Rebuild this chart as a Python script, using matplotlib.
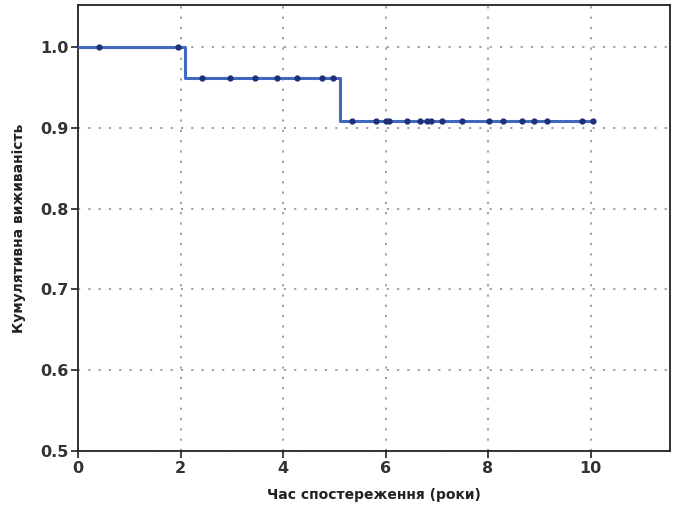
import numpy as np
import matplotlib.pyplot as plt

# step curve: times where survival changes, and the level after each change
step_times = [0.0, 2.09, 5.11]
step_levels = [1.0, 0.9615, 0.908]
end_time = 10.05

# censored observations (years)
censored = [0.41, 1.95,
            2.41, 2.96, 3.46, 3.89, 4.28, 4.76, 4.98,
            5.35, 5.81, 6.0, 6.07, 6.42, 6.67, 6.80, 6.88, 7.11, 7.50,
            8.02, 8.29, 8.67, 8.89, 9.15, 9.83, 10.05]

xticks = [0, 2, 4, 6, 8, 10]
yticks = [0.5, 0.6, 0.7, 0.8, 0.9, 1.0]

fig = plt.figure(figsize=(6.8, 5.05), dpi=100)
ax = fig.add_axes([0.1147, 0.107, 0.8706, 0.883])

xs = step_times + [end_time]
ys = step_levels + [step_levels[-1]]
ax.step(xs, ys, where='post', color='#4169c0', lw=2.2, zorder=3)

idx = np.searchsorted(step_times, censored, side='right') - 1
cy = np.array(step_levels)[idx]
ax.plot(censored, cy, 'o', ms=3.5, color='#1f2f78', zorder=4)

ax.set_xlim(0, 11.55)
ax.set_ylim(0.5, 1.052)
ax.set_xticks(xticks)
ax.set_yticks(yticks)
ax.set_yticklabels([f'{v:.1f}' for v in yticks])
ax.grid(True, ls=(0, (1.2, 4.5)), color='#999999', lw=1.3)
ax.set_axisbelow(True)

for s in ax.spines.values():
    s.set_linewidth(1.3)
    s.set_color('#222222')
ax.tick_params(direction='out', length=5, width=1.3, labelsize=11.5, colors='#333333', pad=2)
for lab in ax.get_xticklabels() + ax.get_yticklabels():
    lab.set_fontweight('bold')

ax.set_xlabel('Час спостереження (роки)', fontsize=10, fontweight='bold', labelpad=9, color='#222222')
ax.set_ylabel('Кумулятивна виживаність', fontsize=10, fontweight='bold', labelpad=10, color='#222222')

fig.savefig('out.png', dpi=100)
